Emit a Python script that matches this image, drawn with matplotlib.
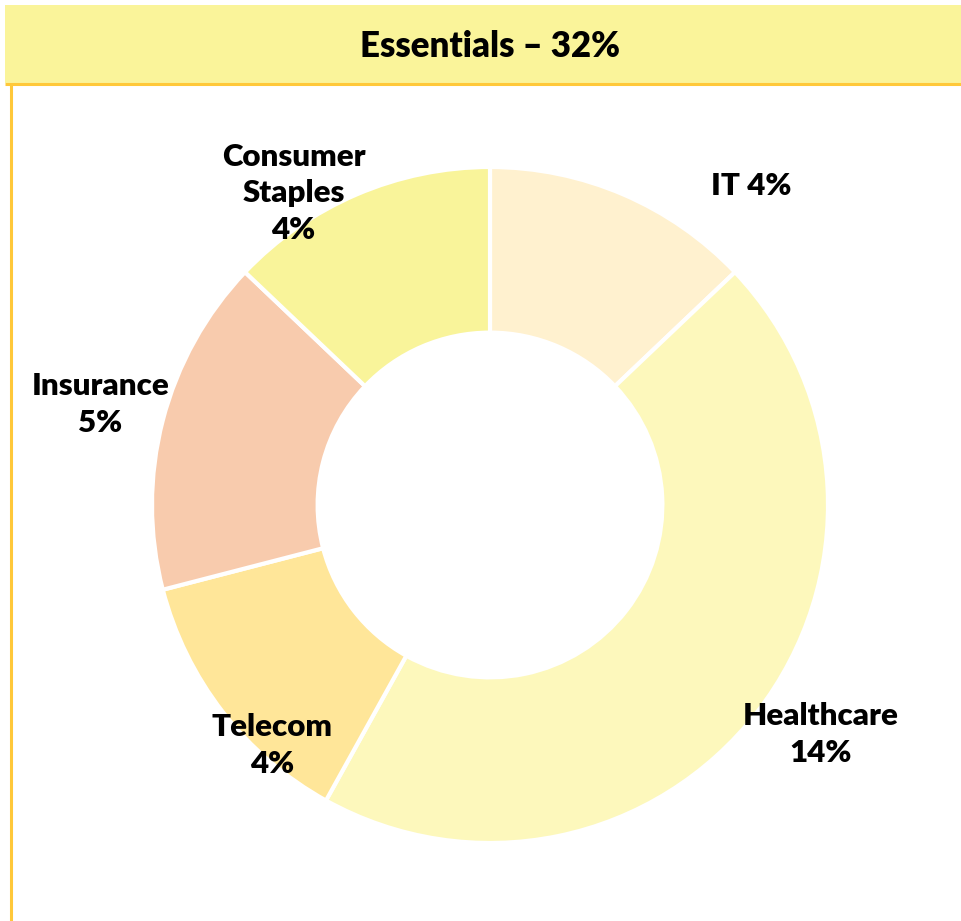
import numpy as np
import matplotlib
matplotlib.use("Agg")
import matplotlib.pyplot as plt
from matplotlib.patches import Rectangle

# ── Data ──────────────────────────────────────────────────────────────────────
sectors = ["IT", "Healthcare", "Telecom", "Insurance", "Consumer\nStaples"]
shares  = [4, 14, 4, 5, 4]
colors  = ["#FFF1CF", "#FDF8BC", "#FFE699", "#F8CBAD", "#F9F49A"]
title   = "Essentials \u2013 32%"

# label placement tweaks: (radius factor, clockwise angle offset in deg)
label_pos = [(1.22, 16), (1.19, -3), (0.96, -10), (1.19, 0), (1.09, -9)]
label_sep = [" ", "\n", "\n", "\n", "\n"]

plt.rcParams["font.family"] = ["Lato", "DejaVu Sans"]

W, H = 962, 921
fig = plt.figure(figsize=(W / 100, H / 100), dpi=100)
ax = fig.add_axes([0, 0, 1, 1])

cx, cy, R = 490, H - 505, 338
wedges, _ = ax.pie(shares, colors=colors, startangle=90, counterclock=False,
                   radius=R, center=(cx, cy),
                   wedgeprops=dict(width=R * 0.49, edgecolor="white", linewidth=3))

for w, name, val, (rf, dth), sep in zip(wedges, sectors, shares, label_pos, label_sep):
    th = np.deg2rad((w.theta1 + w.theta2) / 2 - dth)
    x = cx + rf * R * np.cos(th)
    y = cy + rf * R * np.sin(th)
    ax.text(x, y, f"{name}{sep}{val}%", ha="center", va="center",
            fontsize=22.5, fontweight="heavy", linespacing=1.38, color="black")

# header band and frame
ax.add_patch(Rectangle((5, H - 83), W, 78, facecolor="#FAF49A", edgecolor="none", zorder=0))
ax.plot([5, W], [H - 84, H - 84], color="#FFC83A", lw=2.2, solid_capstyle="butt")
ax.plot([11, 11], [0, H - 84], color="#FFC83A", lw=2.2, solid_capstyle="butt")
ax.text(490, H - 47, title, ha="center", va="center", fontsize=25, fontweight="heavy")

ax.set_xlim(0, W)
ax.set_ylim(0, H)
ax.set_aspect("auto")
ax.axis("off")

fig.savefig("out.png", dpi=100)
